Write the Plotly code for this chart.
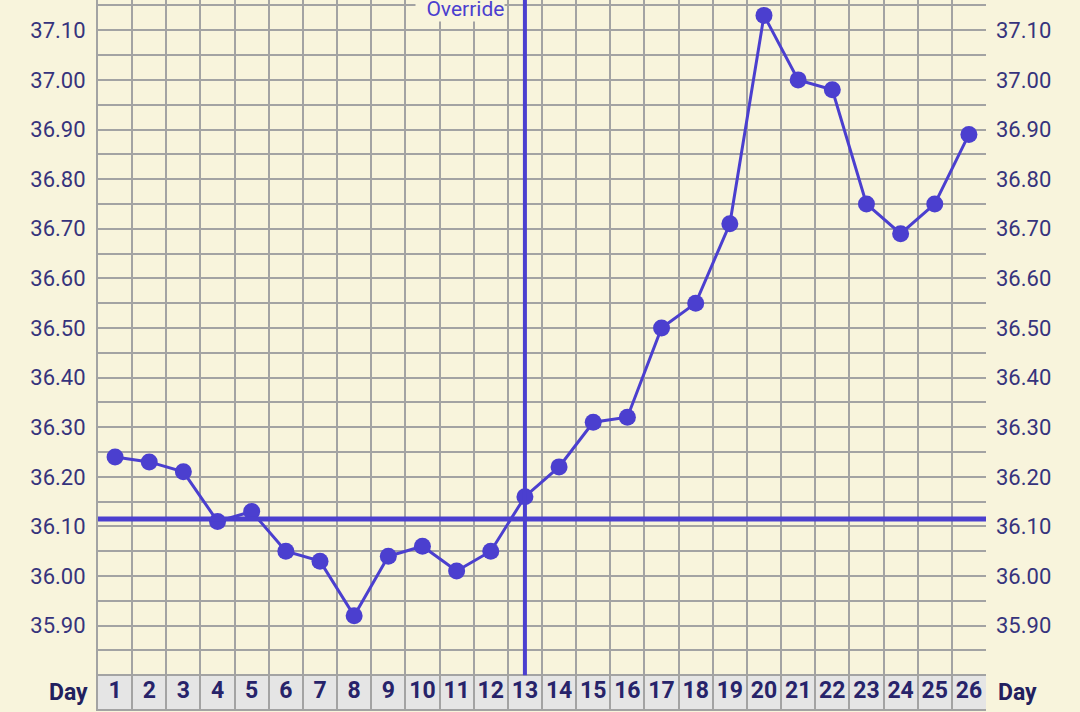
import plotly.graph_objects as go

days = list(range(1, 27))
temps = [36.24, 36.23, 36.21, 36.11, 36.13, 36.05, 36.03, 35.92, 36.04, 36.06,
         36.01, 36.05, 36.16, 36.22, 36.31, 36.32, 36.50, 36.55, 36.71, 37.13,
         37.00, 36.98, 36.75, 36.69, 36.75, 36.89]
cover_line = 36.115
override_day = 13

grid_vals = [round(35.80 + 0.05 * i, 2) for i in range(28)]
tick_text = [f"{v:.2f}" if (35.89 < v < 37.11 and round(v * 100) % 10 == 0) else "" for v in grid_vals]

bg = '#f8f4dc'
ink = '#36337c'
line_col = '#4b3fcf'
grid_col = '#a3a3a3'
y_lo, y_hi = 35.732, 37.161
day_row = 35.765

fig = go.Figure()
fig.add_trace(go.Scatter(
    x=days, y=temps, mode='lines+markers',
    line=dict(color=line_col, width=3),
    marker=dict(size=17, color=line_col),
    showlegend=False, hoverinfo='x+y'
))
# day numbers sit in the grey band at the bottom
fig.add_trace(go.Scatter(
    x=days, y=[day_row] * len(days), mode='text', text=[str(d) for d in days],
    textfont=dict(family='Roboto', size=23, color='#27236a', weight='bold'),
    showlegend=False, hoverinfo='skip', yaxis='y2'
))

fig.add_shape(type='rect', xref='paper', x0=0, x1=1, yref='y', y0=y_lo, y1=35.80,
              fillcolor='#e5e5e5', line=dict(width=0), layer='below')
fig.add_shape(type='line', xref='paper', x0=0, x1=1, yref='y', y0=cover_line, y1=cover_line,
              line=dict(color=line_col, width=5))
fig.add_shape(type='line', xref='x', x0=override_day, x1=override_day, yref='y', y0=35.80, y1=y_hi,
              line=dict(color=line_col, width=4))

fig.add_annotation(x=override_day, y=37.143, xref='x', yref='y', text='  Override', showarrow=False,
                   xanchor='right', yanchor='middle', xshift=-20,
                   font=dict(family='Roboto', size=21, color=line_col), bgcolor=bg, borderpad=0)
for xp, anchor in [(-0.009, 'right'), (1.011, 'left')]:
    fig.add_annotation(x=xp, y=day_row, xref='paper', yref='y', text='<b>Day</b>', showarrow=False,
                       xanchor=anchor, yanchor='middle',
                       font=dict(family='Roboto', size=23, color='#22205e'))

axis_y = dict(range=[y_lo, y_hi], tickvals=grid_vals, ticktext=tick_text,
              gridcolor=grid_col, gridwidth=2, zeroline=False, ticks='', automargin=False,
              tickfont=dict(family='Roboto', size=22, color=ink), fixedrange=True)
fig.update_layout(
    width=1080, height=712,
    paper_bgcolor=bg, plot_bgcolor=bg,
    margin=dict(l=98, r=94, t=0, b=3),
    xaxis=dict(range=[0.5, 26.5], tickvals=[d + 0.5 for d in range(0, 27)], showticklabels=False,
               showgrid=True, gridcolor=grid_col, gridwidth=2, zeroline=False, ticks='', automargin=False,
               showline=True, linecolor=grid_col, linewidth=2, mirror=True, fixedrange=True),
    yaxis=dict(**axis_y, showgrid=True, showline=True, linecolor=grid_col, linewidth=2,
               ticklabelstandoff=6),
    yaxis2=dict(**axis_y, showgrid=False, overlaying='y', side='right', ticklabelstandoff=9),
    showlegend=False,
)

fig.write_html("out.html", config={'displayModeBar': False},
               post_script="document.body.style.margin='0';")
